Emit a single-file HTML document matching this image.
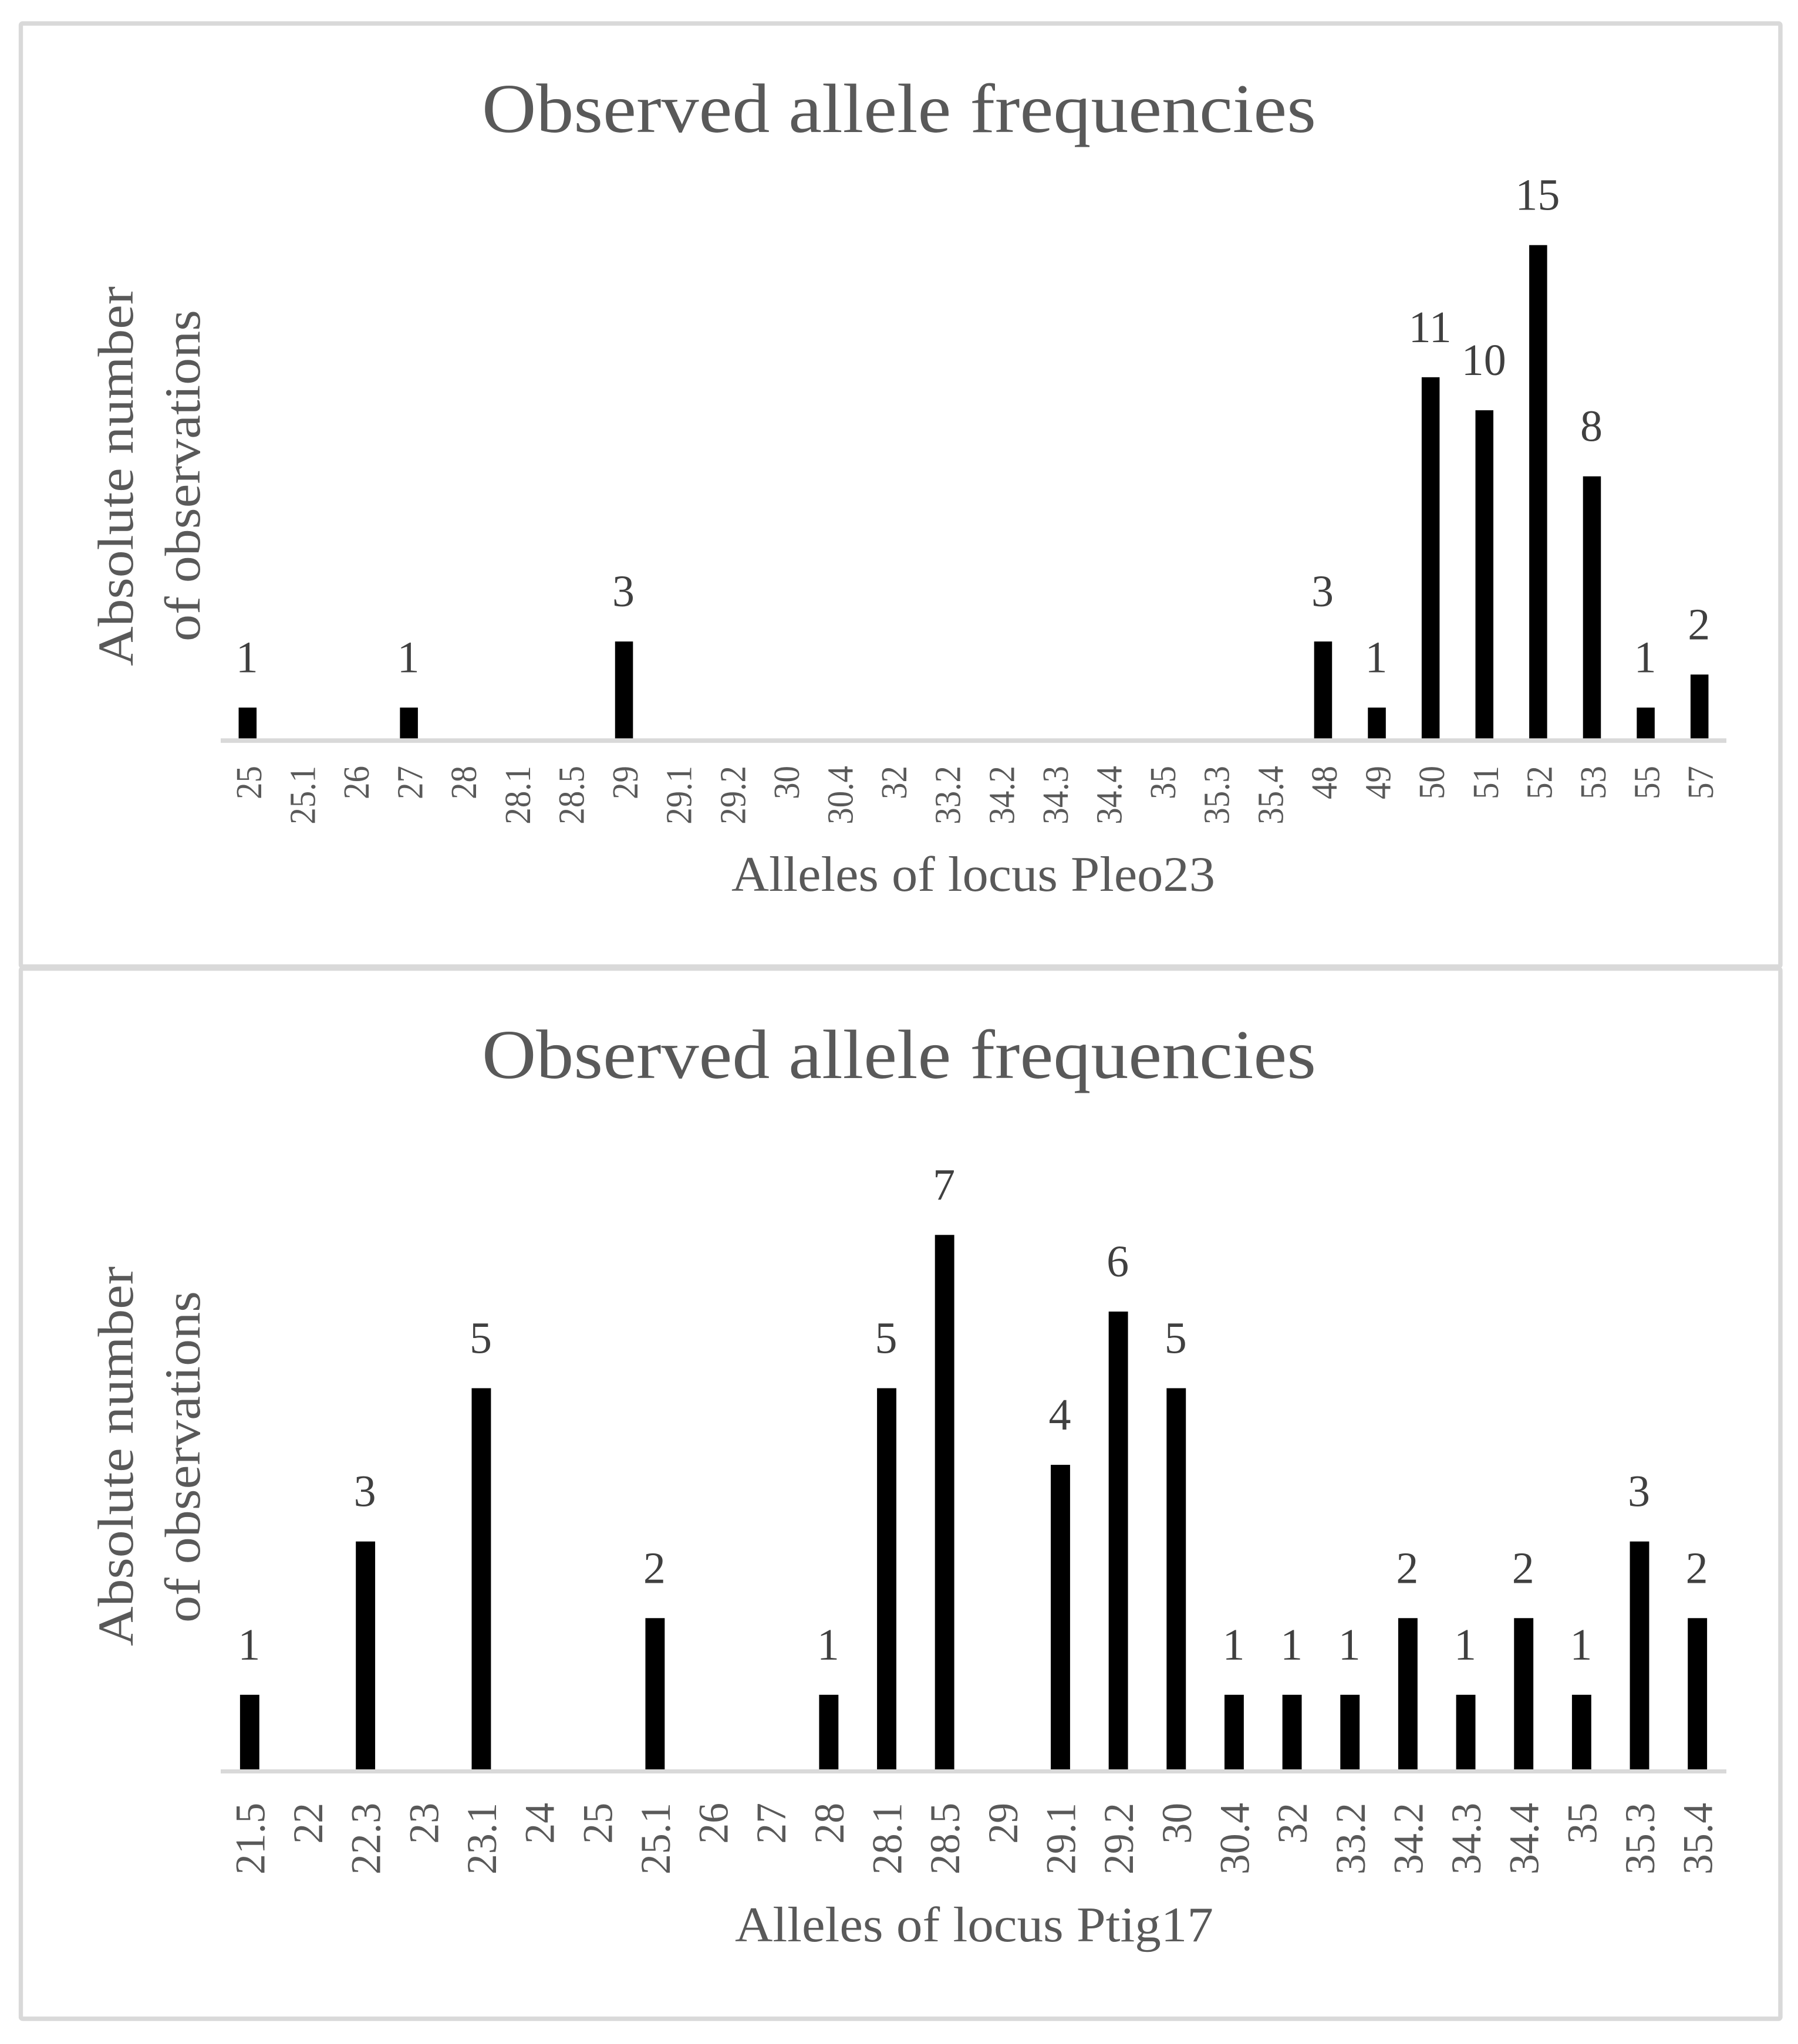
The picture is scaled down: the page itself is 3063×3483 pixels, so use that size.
<!DOCTYPE html>
<html lang="en">
<head>
<meta charset="utf-8">
<title>Observed allele frequencies</title>
<style>
html,body{margin:0;padding:0;background:#fff;}
svg{display:block;}
text{font-family:"Liberation Serif",serif;}
</style>
</head>
<body>
<svg id="figure" xmlns="http://www.w3.org/2000/svg" width="3063" height="3483" viewBox="0 0 3063 3483">
  <rect x="0" y="0" width="3063" height="3483" fill="#ffffff"/>
  <rect x="35.5" y="40" width="2997.5" height="1607" rx="3" fill="none" stroke="#d9d9d9" stroke-width="7.4"/>
  <rect x="35.5" y="1650.5" width="2997.5" height="1789.5" rx="3" fill="none" stroke="#d9d9d9" stroke-width="7.4"/>

  <g id="top-chart">
    <text x="821" y="225" font-size="119" fill="#595959" textLength="1421" lengthAdjust="spacingAndGlyphs">Observed allele frequencies</text>
    <text transform="translate(226,1135) rotate(-90)" font-size="86" fill="#595959" textLength="647" lengthAdjust="spacingAndGlyphs">Absolute number</text>
    <text transform="translate(340,1093) rotate(-90)" font-size="86" fill="#595959" textLength="565" lengthAdjust="spacingAndGlyphs">of observations</text>
    <text x="1246" y="1518" font-size="85" fill="#595959" textLength="824" lengthAdjust="spacingAndGlyphs">Alleles of locus Pleo23</text>
  </g>

  <g id="bottom-chart">
    <text x="821" y="1837" font-size="119" fill="#595959" textLength="1421" lengthAdjust="spacingAndGlyphs">Observed allele frequencies</text>
    <text transform="translate(226,2805) rotate(-90)" font-size="86" fill="#595959" textLength="647" lengthAdjust="spacingAndGlyphs">Absolute number</text>
    <text transform="translate(340,2765) rotate(-90)" font-size="86" fill="#595959" textLength="565" lengthAdjust="spacingAndGlyphs">of observations</text>
    <text x="1252" y="3308" font-size="85" fill="#595959" textLength="815" lengthAdjust="spacingAndGlyphs">Alleles of locus Ptig17</text>
  </g>
</svg>
<script>
const pleoCategories = ["25","25.1","26","27","28","28.1","28.5","29","29.1","29.2","30","30.4","32","33.2","34.2","34.3","34.4","35","35.3","35.4","48","49","50","51","52","53","55","57"];
const pleoValues = [1,0,0,1,0,0,0,3,0,0,0,0,0,0,0,0,0,0,0,0,3,1,11,10,15,8,1,2];
const ptigCategories = ["21.5","22","22.3","23","23.1","24","25","25.1","26","27","28","28.1","28.5","29","29.1","29.2","30","30.4","32","33.2","34.2","34.3","34.4","35","35.3","35.4"];
const ptigValues = [1,0,3,0,5,0,0,2,0,0,1,5,7,0,4,6,5,1,1,1,2,1,2,1,3,2];

const SVG_NS = 'http://www.w3.org/2000/svg';

function makeXAxis(left, right, count) {
  const band = (right - left) / count;
  return { band: band, center: function (i) { return left + band * (i + 0.5); } };
}

function makeYAxis(zeroY, pixelsPerUnit) {
  return function (v) { return zeroY - pixelsPerUnit * v; };
}

function drawChart(parent, categories, values, opt) {
  const x = makeXAxis(opt.left, opt.right, categories.length);
  const y = makeYAxis(opt.zeroY, opt.unit);
  const barWidth = x.band / 3;

  values.forEach(function (v, i) {
    if (v <= 0) return;
    const bar = document.createElementNS(SVG_NS, 'rect');
    
    
    bar.setAttribute('x', x.center(i) - barWidth / 2);
    bar.setAttribute('y', y(v));
    bar.setAttribute('width', barWidth);
    bar.setAttribute('height', opt.zeroY - y(v));
    bar.setAttribute('fill', '#000000');
    parent.appendChild(bar);

    const label = document.createElementNS(SVG_NS, 'text');
    
    
    label.setAttribute('x', x.center(i) - 1);
    label.setAttribute('y', y(v) - 60);
    label.setAttribute('text-anchor', 'middle');
    label.setAttribute('font-size', '76');
    label.setAttribute('fill', '#404040');
    label.textContent = String(v);
    parent.appendChild(label);
  });

  const axis = document.createElementNS(SVG_NS, 'rect');
  
  
  axis.setAttribute('x', opt.left);
  axis.setAttribute('y', opt.zeroY - opt.axisHeight / 2);
  axis.setAttribute('width', opt.right - opt.left);
  axis.setAttribute('height', opt.axisHeight);
  axis.setAttribute('fill', '#d9d9d9');
  parent.appendChild(axis);

  categories.forEach(function (c, i) {
    const tick = document.createElementNS(SVG_NS, 'text');
    
    
    tick.setAttribute('transform', 'translate(' + (x.center(i) + opt.tickOffset) + ',' + opt.tickTop + ') rotate(-90) scale(' + opt.tickScale + ',1)');
    tick.setAttribute('text-anchor', 'end');
    tick.setAttribute('font-size', opt.tickSize);
    tick.setAttribute('fill', '#595959');
    tick.textContent = c;
    parent.appendChild(tick);
  });
}

drawChart(document.getElementById('top-chart'), pleoCategories, pleoValues, {
  left: 376, right: 2941, zeroY: 1262, unit: 56.29, axisHeight: 7.7,
  tickOffset: 23, tickTop: 1305, tickSize: 62, tickScale: 0.92
});
drawChart(document.getElementById('bottom-chart'), ptigCategories, ptigValues, {
  left: 376, right: 2941, zeroY: 3018.5, unit: 130.6, axisHeight: 7,
  tickOffset: 25, tickTop: 3072, tickSize: 72, tickScale: 0.97
});
</script>
</body>
</html>
